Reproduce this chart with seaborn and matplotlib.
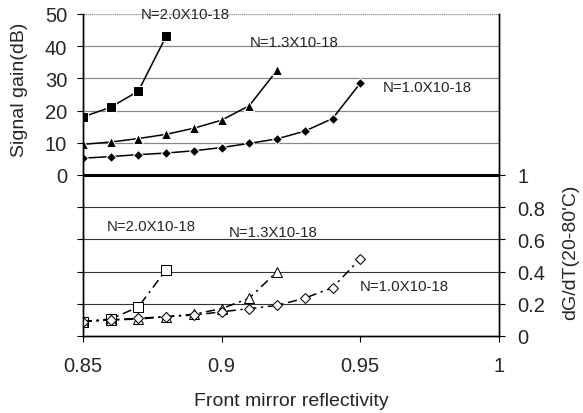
import numpy as np
import pandas as pd
import seaborn as sns
import matplotlib.pyplot as plt

sns.set_style("ticks")
plt.rcParams['font.family'] = ['Liberation Sans', 'DejaVu Sans']

# reflectivity points
refl_20 = [0.85, 0.86, 0.87, 0.88]
refl_13 = [0.85, 0.86, 0.87, 0.88, 0.89, 0.90, 0.91, 0.92]
refl_10 = [0.85, 0.86, 0.87, 0.88, 0.89, 0.90, 0.91, 0.92, 0.93, 0.94, 0.95]

# signal gain (dB)
gain_20 = [18, 21, 26, 43]
gain_13 = [9.5, 10.2, 11.3, 12.6, 14.5, 17, 21.5, 32.5]
gain_10 = [5.2, 5.7, 6.3, 6.8, 7.5, 8.5, 9.8, 11.2, 13.6, 17.5, 28.5]

# dG/dT (20-80'C)
dgdt_20 = [0.09, 0.105, 0.18, 0.41]
dgdt_13 = [0.09, 0.1, 0.105, 0.12, 0.135, 0.17, 0.235, 0.40]
dgdt_10 = [0.09, 0.1, 0.11, 0.12, 0.13, 0.15, 0.17, 0.19, 0.235, 0.30, 0.48]

fig = plt.figure(figsize=(5.83, 4.14), dpi=100)
ax = fig.add_axes([0.142, 0.186, 0.714, 0.778])
ax2 = ax.twinx()

# gridlines
for g in [10, 20, 30, 40]:
    ax.axhline(g, color="#888888", lw=0.9, zorder=0)
for g in [-10, -20, -30, -40]:
    ax.axhline(g, color="#333333", lw=0.8, zorder=0)
ax.axhline(50, color="#999999", lw=1.0, ls=(0, (1, 0.5)), zorder=0)
ax.axhline(0, color="black", lw=2.2, zorder=1)

sns.lineplot(x=refl_20, y=gain_20, ax=ax, color="black", marker="s", markersize=7, lw=1.1)
sns.lineplot(x=refl_13, y=gain_13, ax=ax, color="black", marker="^", markersize=7, lw=1.1)
sns.lineplot(x=refl_10, y=gain_10, ax=ax, color="black", marker="D", markersize=5.5, lw=1.1)

dd = (0, (6, 3, 1.5, 3))
sns.lineplot(x=refl_20, y=dgdt_20, ax=ax2, color="black", marker="s", markersize=7,
             markerfacecolor="white", markeredgecolor="black", lw=1.1, linestyle=dd)
sns.lineplot(x=refl_13, y=dgdt_13, ax=ax2, color="black", marker="^", markersize=7,
             markerfacecolor="white", markeredgecolor="black", lw=1.1, linestyle=dd)
sns.lineplot(x=refl_10, y=dgdt_10, ax=ax2, color="black", marker="D", markersize=5.5,
             markerfacecolor="white", markeredgecolor="black", lw=1.1, linestyle=dd)

ax.set_xticks([0.85, 0.9, 0.95, 1.0])
ax.set_xticklabels(["0.85", "0.9", "0.95", "1"])
ax.set_yticks(np.arange(-50, 51, 10))
ax.set_yticklabels(["" if v < 0 else str(v) for v in range(-50, 51, 10)])
ax2.set_yticks([0, 0.2, 0.4, 0.6, 0.8, 1.0])
ax2.set_yticklabels(["0", "0.2", "0.4", "0.6", "0.8", "1"])

for a in (ax, ax2):
    a.tick_params(labelsize=14.5, length=4.3, width=0.8, color="black")
    for s in a.spines.values():
        s.set_linewidth(1.0)
        s.set_color("black")
    a.spines["top"].set_visible(False)
ax.tick_params(axis="x", pad=10)
ax.tick_params(axis="y", pad=7)
ax2.tick_params(axis="y", pad=9)

ax.set_xlabel("Front mirror reflectivity", fontsize=14, labelpad=12)
ax.set_ylabel("")
ax2.set_ylabel("")
fig.text(0.034, 0.783, "Signal gain(dB)", rotation=90, fontsize=14, ha="center", va="center")
fig.text(0.978, 0.391, "dG/dT(20-80'C)", rotation=90, fontsize=14, ha="center", va="center")

lbl = dict(fontsize=10.8, ha="center", va="center")
ax.text(0.887, 50, "N=2.0X10-18", **lbl)
ax.text(0.926, 41.3, "N=1.3X10-18", **lbl)
ax.text(0.974, 27.3, "N=1.0X10-18", **lbl)
ax2.text(0.8745, 0.68, "N=2.0X10-18", **lbl)
ax2.text(0.9185, 0.646, "N=1.3X10-18", **lbl)
ax2.text(0.9657, 0.31, "N=1.0X10-18", **lbl)

ax.set_xlim(0.85, 1.0)
ax.set_ylim(-50, 50)
ax2.set_ylim(0, 2)

plt.savefig("out.png", dpi=100)
